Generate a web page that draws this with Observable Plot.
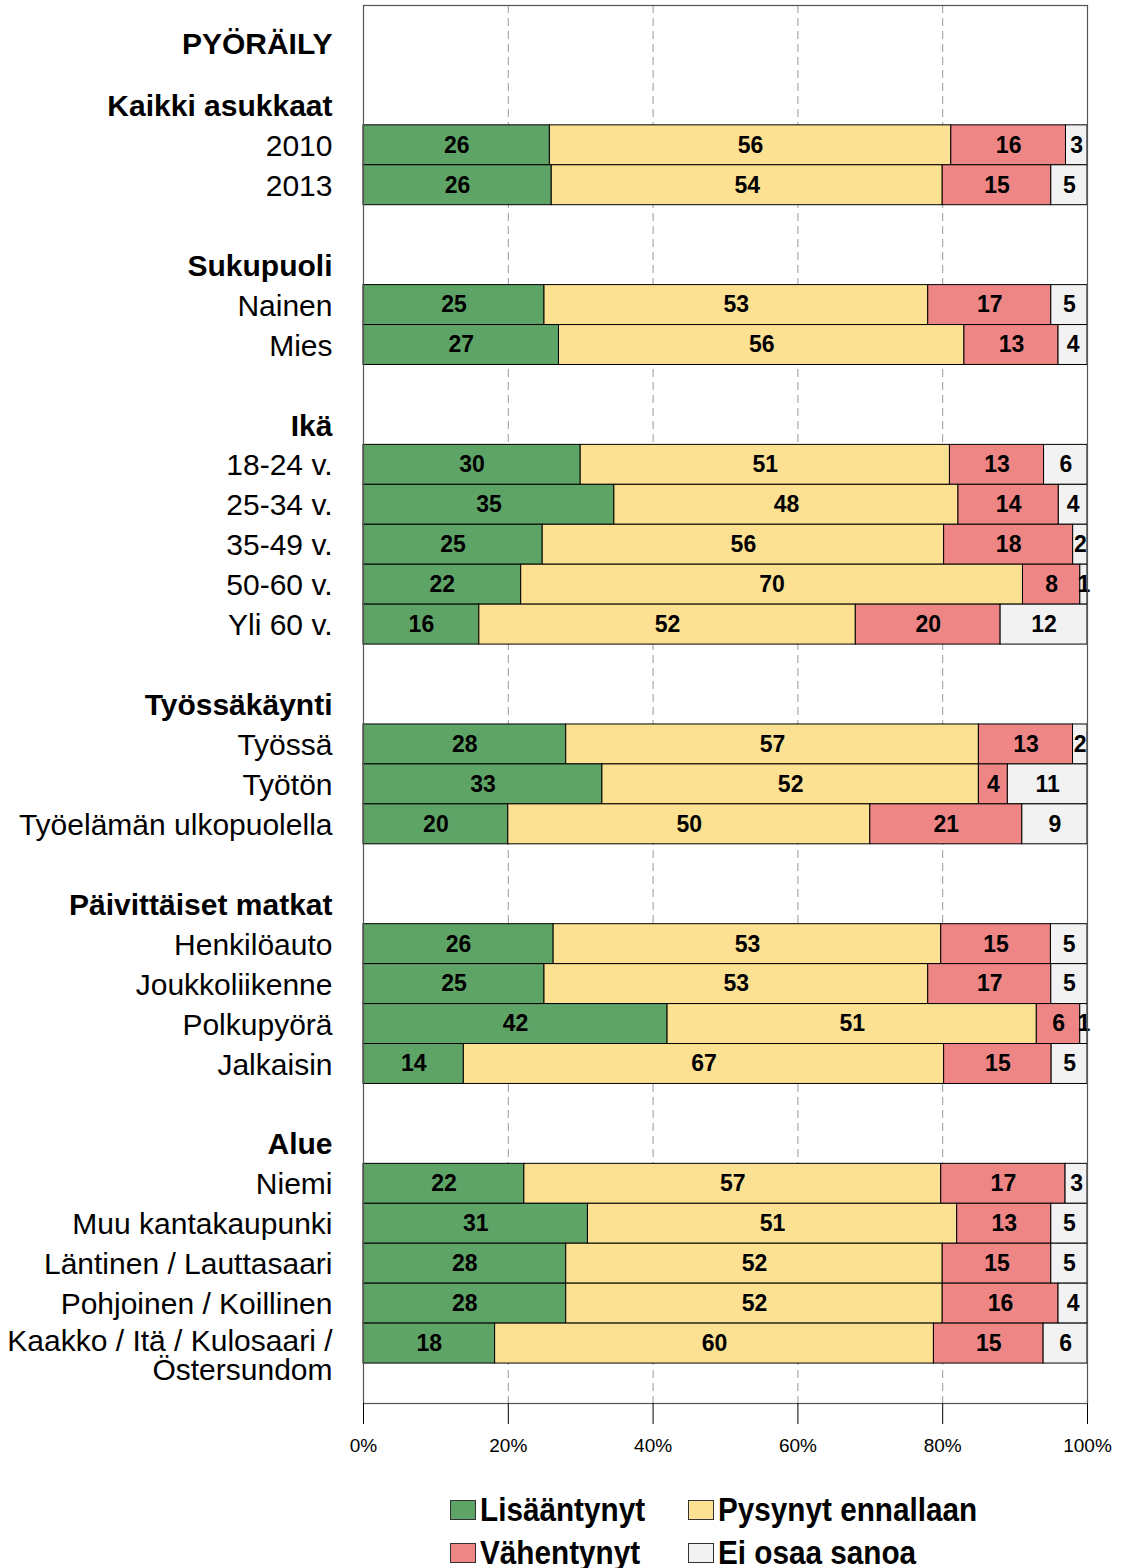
<!DOCTYPE html>
<html>
<head>
<meta charset="utf-8">
<script src="https://cdn.jsdelivr.net/npm/d3@7"></script>
<script src="https://cdn.jsdelivr.net/npm/@observablehq/plot@0.6"></script>
<style>
  body { margin: 0; background: #fff; font-family: "Liberation Sans", Arial, sans-serif; }
  #wrap { position: relative; width: 1121px; height: 1568px; overflow: hidden; }
  #legend { position: absolute; left: 0; top: 1491px; width: 1121px; }
  .item { position: absolute; display: flex; align-items: center; font-family: "Liberation Sans", Arial, sans-serif; font-weight: bold; font-size: 33px; color: #000; white-space: nowrap; }
  .sw { width: 26px; height: 20px; border: 1px solid #333; margin-right: 4px; box-sizing: border-box; flex: none; }
  .lab { display: inline-block; transform: scaleX(0.9); transform-origin: left center; }
</style>
</head>
<body>
<div id="wrap">
  <div id="chart"></div>
  <div id="legend"></div>
</div>
<script>
const title = "PYÖRÄILY";
const groups = ["Kaikki asukkaat", "Sukupuoli", "Ikä", "Työssäkäynti", "Päivittäiset matkat", "Alue"];
const groupSizes = [2, 2, 5, 3, 4, 5];
const rows = ["2010", "2013", "Nainen", "Mies", "18-24 v.", "25-34 v.", "35-49 v.", "50-60 v.", "Yli 60 v.",
  "Työssä", "Työtön", "Työelämän ulkopuolella", "Henkilöauto", "Joukkoliikenne", "Polkupyörä", "Jalkaisin",
  "Niemi", "Muu kantakaupunki", "Läntinen / Lauttasaari", "Pohjoinen / Koillinen", "Kaakko / Itä / Kulosaari /\nÖstersundom"];
const series = ["Lisääntynyt", "Pysynyt ennallaan", "Vähentynyt", "Ei osaa sanoa"];
const colors = ["#5fa467", "#fde192", "#ef8686", "#f2f2f2"];
const lisaantynyt = [26, 26, 25, 27, 30, 35, 25, 22, 16, 28, 33, 20, 26, 25, 42, 14, 22, 31, 28, 28, 18];
const pysynyt     = [56, 54, 53, 56, 51, 48, 56, 70, 52, 57, 52, 50, 53, 53, 51, 67, 57, 51, 52, 52, 60];
const vahentynyt  = [16, 15, 17, 13, 13, 14, 18,  8, 20, 13,  4, 21, 15, 17,  6, 15, 17, 13, 15, 16, 15];
const eiOsaa      = [ 3,  5,  5,  4,  6,  4,  2,  1, 12,  2, 11,  9,  5,  5,  1,  5,  3,  5,  5,  4,  6];
const xTicks = [0, 0.2, 0.4, 0.6, 0.8, 1];

// build y slots
const domain = ["t0", "t1"];
const labels = [];
let r = 0;
groups.forEach((g, gi) => {
  domain.push(g);
  labels.push({key: g, text: g, header: true});
  for (let k = 0; k < groupSizes[gi]; k++) {
    domain.push(rows[r]);
    labels.push({key: rows[r], text: rows[r], header: false});
    r++;
  }
  domain.push("blank" + gi);
});

const valueSets = [lisaantynyt, pysynyt, vahentynyt, eiOsaa];
const data = [];
rows.forEach((row, i) => {
  series.forEach((s, si) => data.push({row, series: s, value: valueSets[si][i]}));
});

const chart = Plot.plot({
  width: 1121,
  height: 1470,
  marginLeft: 363,
  marginRight: 34,
  marginTop: 5,
  marginBottom: 67,
  style: {fontFamily: "'Liberation Sans', Arial, sans-serif", background: "#fff"},
  x: {domain: [0, 1], axis: null},
  y: {domain, axis: null, paddingInner: 0, paddingOuter: 0},
  color: {domain: series, range: colors},
  marks: [
    Plot.ruleX([0.2, 0.4, 0.6, 0.8], {stroke: "#999", strokeDasharray: "8,5", strokeWidth: 1}),
    Plot.barX(data, Plot.stackX({x: "value", y: "row", fill: "series", offset: "normalize", order: series, stroke: "#000", strokeWidth: 1, inset: 0})),
    Plot.text(data, Plot.stackX({x: "value", y: "row", z: "series", text: "value", offset: "normalize", order: series, fontWeight: "bold", fontSize: 23, fill: "#000"})),
    Plot.frame({stroke: "#555", strokeWidth: 1.2}),
    Plot.axisX({ticks: xTicks, tickFormat: d3.format(".0%"), tickSize: 21, tickPadding: 14, fontSize: 19, label: null}),
    Plot.text(labels.filter(d => d.header), {x: 0, y: "key", text: "text", textAnchor: "end", dx: -31, dy: 1, fontSize: 30, fontWeight: "bold", fill: "#000"}),
    Plot.text(labels.filter(d => !d.header && !d.text.includes("\n")), {x: 0, y: "key", text: "text", textAnchor: "end", dx: -31, dy: 1, fontSize: 30, fill: "#000"}),
    Plot.text(labels.filter(d => d.text.includes("\n")), {x: 0, y: "key", text: "text", textAnchor: "end", dx: -31, dy: 13, lineHeight: 0.97, fontSize: 30, fill: "#000"}),
    Plot.text([title], {x: 0, y: () => "t0", text: d => d, textAnchor: "end", dx: -31, dy: 19, fontSize: 30, fontWeight: "bold", fill: "#000"})
  ]
});
document.getElementById("chart").appendChild(chart);

const legend = document.getElementById("legend");
const pos = [[450, 0], [688, 0], [450, 43], [688, 43]];
series.forEach((s, i) => {
  const it = document.createElement("div");
  it.className = "item";
  it.style.left = pos[i][0] + "px";
  it.style.top = pos[i][1] + "px";
  const sw = document.createElement("div");
  sw.className = "sw";
  sw.style.background = colors[i];
  it.appendChild(sw);
  const lab = document.createElement("span");
  lab.className = "lab";
  lab.textContent = s;
  it.appendChild(lab);
  legend.appendChild(it);
});
</script>
</body>
</html>
